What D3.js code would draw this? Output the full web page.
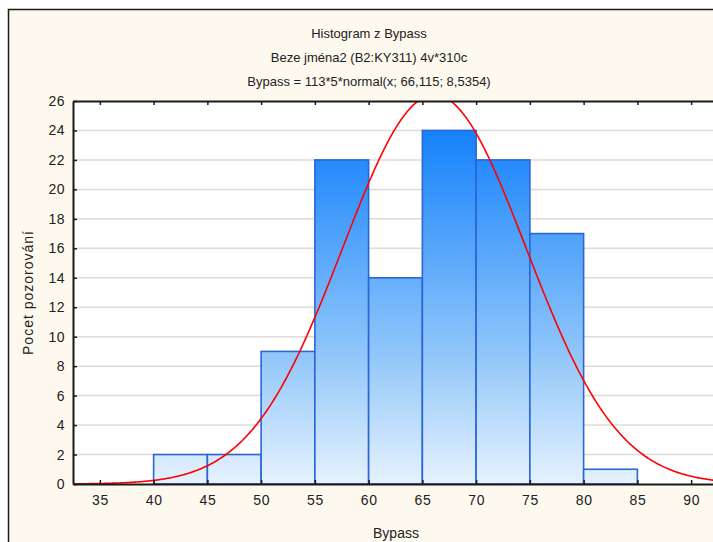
<!DOCTYPE html>
<html>
<head>
<meta charset="utf-8">
<script src="https://cdn.jsdelivr.net/npm/d3@7"></script>
<style>
  html, body { margin: 0; padding: 0; background: #ffffff; }
  svg { display: block; font-family: "Liberation Sans", Arial, sans-serif; }
</style>
</head>
<body>
<svg id="chart" width="713" height="542"></svg>
<script>
// Histogram bins (lower edge, width 5) and counts
const binStarts = [35, 40, 45, 50, 55, 60, 65, 70, 75, 80, 85];
const binCounts = [0, 2, 2, 9, 22, 14, 24, 22, 17, 1, 0];
const binWidth = 5;

// Fitted normal curve parameters
const fitN = 113;
const fitMean = 66.115;
const fitSd = 8.5354;

const xTicks = [35, 40, 45, 50, 55, 60, 65, 70, 75, 80, 85, 90];
const yTicks = [0, 2, 4, 6, 8, 10, 12, 14, 16, 18, 20, 22, 24, 26];

const titleLines = [
  "Histogram z Bypass",
  "Beze jména2 (B2:KY311) 4v*310c",
  "Bypass = 113*5*normal(x; 66,115; 8,5354)"
];

const svg = d3.select("#chart");

// Outer graph frame
svg.append("rect")
  .attr("x", 8.5).attr("y", 9.5)
  .attr("width", 740).attr("height", 560)
  .attr("fill", "#fdf9ef")
  .attr("stroke", "#1a1a1a").attr("stroke-width", 1.5);

const plot = { left: 73, top: 101, right: 718, bottom: 484 };

const x = d3.scaleLinear().domain([32.5, 92.5]).range([plot.left, plot.right]);
const y = d3.scaleLinear().domain([0, 26]).range([plot.bottom, plot.top]);

// Plot background
svg.append("rect")
  .attr("x", plot.left).attr("y", plot.top)
  .attr("width", plot.right - plot.left).attr("height", plot.bottom - plot.top)
  .attr("fill", "#ffffff");

const defs = svg.append("defs");
const grad = defs.append("linearGradient")
  .attr("id", "barFill")
  .attr("gradientUnits", "userSpaceOnUse")
  .attr("x1", 0).attr("x2", 0)
  .attr("y1", y(26)).attr("y2", y(0));
grad.append("stop").attr("offset", "0").attr("stop-color", "#0a7cff");
grad.append("stop").attr("offset", "0.1").attr("stop-color", "#1a84fb");
grad.append("stop").attr("offset", "0.66").attr("stop-color", "#90c6fa");
grad.append("stop").attr("offset", "1").attr("stop-color", "#e6f2fd");

defs.append("clipPath").attr("id", "plotClip")
  .append("rect")
  .attr("x", plot.left).attr("y", plot.top)
  .attr("width", plot.right - plot.left).attr("height", plot.bottom - plot.top);

// Horizontal gridlines
svg.append("g")
  .selectAll("line")
  .data(yTicks.filter(d => d > 0 && d < 26))
  .join("line")
  .attr("x1", plot.left).attr("x2", plot.right)
  .attr("y1", d => y(d)).attr("y2", d => y(d))
  .attr("stroke", "#dcdcdc").attr("stroke-width", 1.5);

// Histogram bars
const bins = binStarts.map((s, i) => ({ x0: s, x1: s + binWidth, count: binCounts[i] }));
svg.append("g")
  .selectAll("rect")
  .data(bins.filter(d => d.count > 0))
  .join("rect")
  .attr("x", d => x(d.x0))
  .attr("y", d => y(d.count))
  .attr("width", d => x(d.x1) - x(d.x0))
  .attr("height", d => y(0) - y(d.count))
  .attr("fill", "url(#barFill)")
  .attr("stroke", "#2a66d6")
  .attr("stroke-width", 1.6);

// Normal curve
const pdf = v => Math.exp(-0.5 * ((v - fitMean) / fitSd) ** 2) / (fitSd * Math.sqrt(2 * Math.PI));
const curveXs = d3.range(32.5, 92.51, 0.1);
const line = d3.line()
  .x(v => x(v))
  .y(v => y(fitN * binWidth * pdf(v)))
  .curve(d3.curveLinear);
svg.append("path")
  .datum(curveXs)
  .attr("clip-path", "url(#plotClip)")
  .attr("d", line)
  .attr("fill", "none")
  .attr("stroke", "#ff0000")
  .attr("stroke-width", 1.6);

// Axes (ticks drawn inward)
const bottomAxis = svg.append("g")
  .attr("transform", `translate(0,${plot.bottom})`)
  .call(d3.axisBottom(x).tickValues(xTicks).tickSizeInner(-4).tickSizeOuter(0).tickPadding(11));
const topAxis = svg.append("g")
  .attr("transform", `translate(0,${plot.top})`)
  .call(d3.axisTop(x).tickValues(xTicks).tickSizeInner(-4).tickSizeOuter(0).tickFormat(""));
const leftAxis = svg.append("g")
  .attr("transform", `translate(${plot.left},0)`)
  .call(d3.axisLeft(y).tickValues(yTicks).tickSizeInner(-4).tickSizeOuter(0).tickPadding(8));

[bottomAxis, topAxis, leftAxis].forEach(g => {
  g.select(".domain").attr("stroke", "#1a1a1a").attr("stroke-width", 2);
  g.selectAll(".tick line").attr("stroke", "#1a1a1a").attr("stroke-width", 1.5);
  g.selectAll("text")
    .attr("font-family", "'Liberation Sans', Arial, sans-serif")
    .attr("font-size", 14)
    .attr("letter-spacing", 0.5)
    .attr("fill", "#222");
});

// Titles
svg.append("g")
  .selectAll("text")
  .data(titleLines)
  .join("text")
  .attr("x", 369)
  .attr("y", (d, i) => 38 + i * 24)
  .attr("text-anchor", "middle")
  .attr("font-size", 13)
  .attr("fill", "#222")
  .text(d => d);

// Axis titles
svg.append("text")
  .attr("x", 396).attr("y", 538)
  .attr("text-anchor", "middle")
  .attr("font-size", 14)
  .attr("fill", "#222")
  .text("Bypass");

svg.append("text")
  .attr("transform", `translate(33,${(plot.top + plot.bottom) / 2}) rotate(-90)`)
  .attr("text-anchor", "middle")
  .attr("font-size", 14)
  .attr("letter-spacing", 1)
  .attr("fill", "#222")
  .text("Pocet pozorování");
</script>
</body>
</html>
